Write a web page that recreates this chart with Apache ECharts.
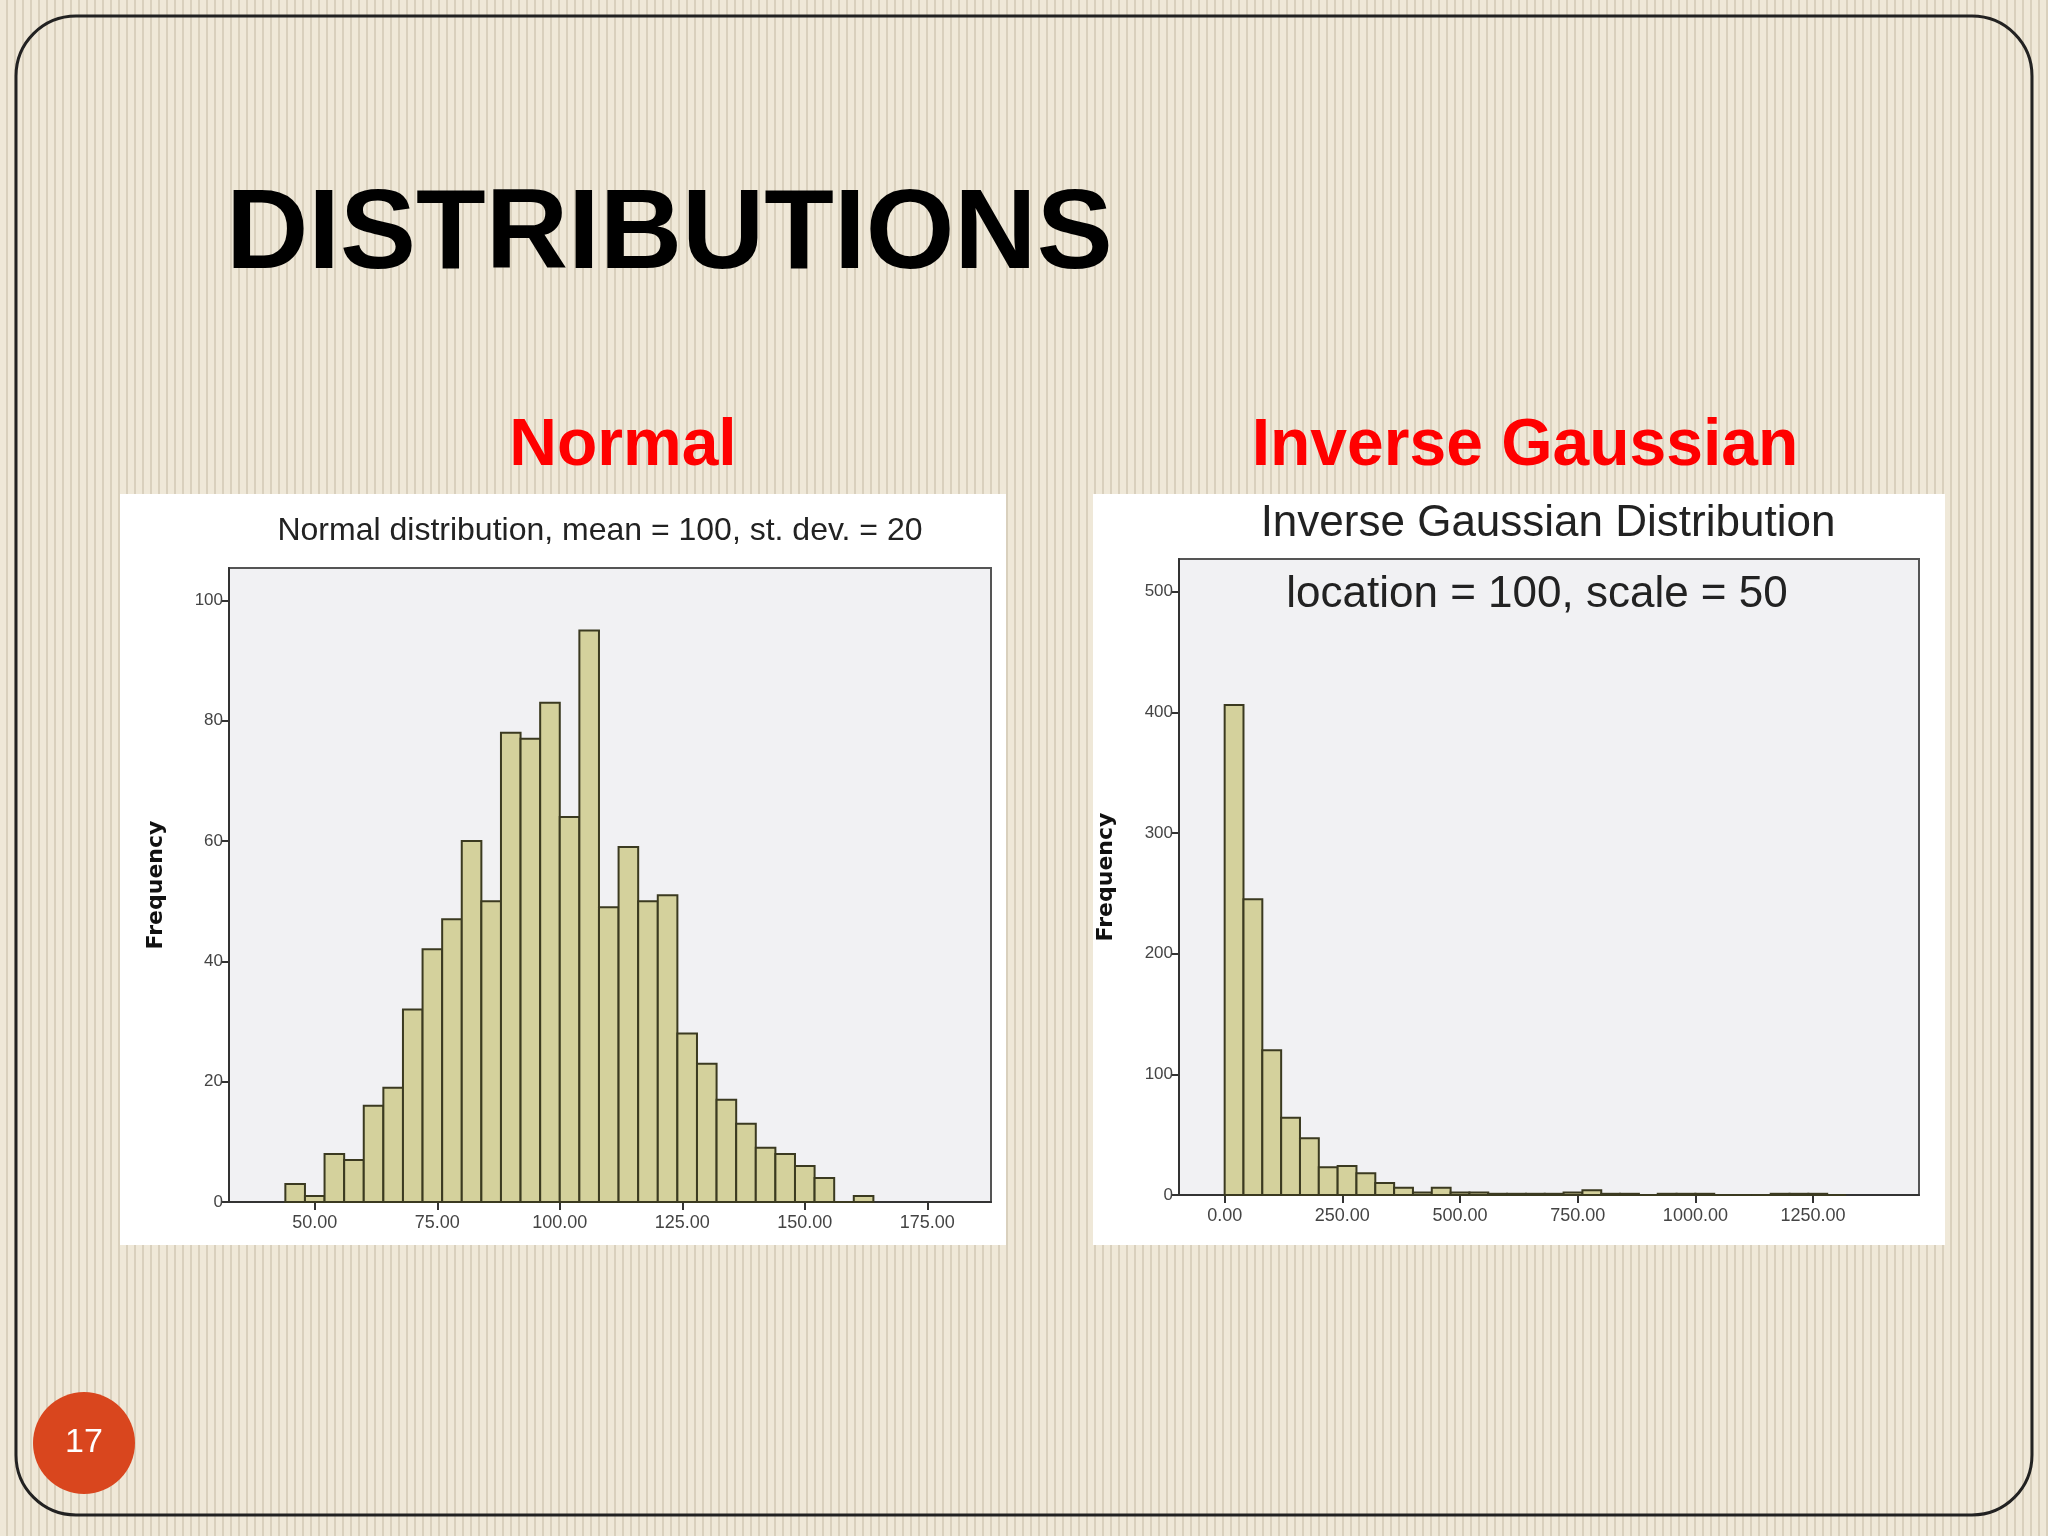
<!DOCTYPE html>
<html><head><meta charset="utf-8">
<script src="https://cdn.jsdelivr.net/npm/echarts@6/dist/echarts.min.js"></script>
<style>
html,body{margin:0;padding:0;}
#c{width:2048px;height:1536px;background:#efe8d8;
background-image:repeating-linear-gradient(90deg,#efe8d8 0px,#efe8d8 6px,#d9d0bd 6px,#d9d0bd 8px);}
</style></head><body><div id="c"></div>
<script>
// Normal histogram: bin starts (width 4) and counts
const normalBinStart = [44,48,52,56,60,64,68,72,76,80,84,88,92,96,100,104,108,112,116,120,124,128,132,136,140,144,148,152,156,160];
const normalCounts   = [3,1,8,7,16,19,32,42,47,60,50,78,77,83,64,95,49,59,50,51,28,23,17,13,9,8,6,4,0,1];
const normalBinWidth = 4;
const normalTicks = [50,75,100,125,150,175];
// Inverse Gaussian histogram: bin starts (width 40) and counts
const igBinStart = [0,40,80,120,160,200,240,280,320,360,400,440,480,520,560,600,640,680,720,760,800,840,880,920,960,1000,1040,1080,1120,1160,1200,1240,1280];
const igCounts   = [406,245,120,64,47,23,24,18,10,6,2,6,2,2,1,1,1,1,2,4,1,1,0,1,1,1,0,0,0,1,1,1,0];
const igBinWidth = 40;
const igTicks = [0,250,500,750,1000,1250];

const chart = echarts.init(document.getElementById('c'));
function hist(starts, counts, w, xi){
  return {type:'custom', xAxisIndex:xi, yAxisIndex:xi,
    data: starts.map((s,i)=>[s, s+w, counts[i]]),
    renderItem:(p,api)=>{
      const a=api.coord([api.value(0),0]), b=api.coord([api.value(1),api.value(2)]);
      return {type:'rect', shape:{x:a[0],y:b[1],width:b[0]-a[0],height:a[1]-b[1]},
        style:{fill:'#d4d19c',stroke:'#3b3a20',lineWidth:2}};
    }};
}
const axisX = (min,max,ticks)=>({type:'value',min:min,max:max,
  axisLine:{show:true,onZero:false,lineStyle:{color:'#333',width:2}},
  axisTick:{show:true,customValues:ticks,length:8,lineStyle:{color:'#333',width:2}},
  axisLabel:{customValues:ticks,formatter:v=>v.toFixed(2),fontSize:18,color:'#444',fontFamily:'Liberation Sans',margin:12},
  splitLine:{show:false}});
const axisY = (max,interval)=>({type:'value',min:0,max:max,interval:interval,
  name:'Frequency',nameLocation:'middle',nameRotate:90,nameGap:62,
  nameTextStyle:{fontSize:22,fontWeight:'bold',color:'#111',fontFamily:'DejaVu Sans'},
  axisLine:{show:true,onZero:false,lineStyle:{color:'#333',width:2}},
  axisTick:{show:true,length:8,lineStyle:{color:'#333',width:2}},
  axisLabel:{fontSize:17,color:'#444',fontFamily:'Liberation Sans',margin:6,
    showMaxLabel:false},
  splitLine:{show:false}});
chart.setOption({
  animation:false,
  graphic:[
    {type:'rect',shape:{x:16,y:16,width:2016,height:1499,r:60},style:{fill:'transparent',stroke:'#222',lineWidth:3},z:-1},
    {type:'rect',shape:{x:120,y:494,width:886,height:751},style:{fill:'#fff'},z:-10},
    {type:'rect',shape:{x:1093,y:494,width:852,height:751},style:{fill:'#fff'},z:-10},
    {type:'text',left:226,top:180,style:{text:'DISTRIBUTIONS',font:'bold 114px "Liberation Sans"',fill:'#000'}},
    {type:'text',x:623,y:447,style:{text:'Normal',font:'bold 66px "Liberation Sans"',fill:'#ff0000',align:'center',verticalAlign:'middle'}},
    {type:'text',x:1525,y:447,style:{text:'Inverse Gaussian',font:'bold 66px "Liberation Sans"',fill:'#ff0000',align:'center',verticalAlign:'middle'}},
    {type:'text',x:600,y:531,style:{text:'Normal distribution, mean = 100, st. dev. = 20',font:'32px "Liberation Sans"',fill:'#222',align:'center',verticalAlign:'middle'}},
    {type:'text',x:1548,y:524,style:{text:'Inverse Gaussian Distribution',font:'44px "Liberation Sans"',fill:'#222',align:'center',verticalAlign:'middle'}},
    {type:'text',x:1537,y:595,z:10,style:{text:'location = 100, scale = 50',font:'44px "Liberation Sans"',fill:'#222',align:'center',verticalAlign:'middle'}},
    {type:'circle',shape:{cx:84,cy:1443,r:51},style:{fill:'#d9461e'}},
    {type:'text',x:84,y:1443,style:{text:'17',font:'34px "Liberation Sans"',fill:'#fff',align:'center',verticalAlign:'middle'}}
  ],
  grid:[
    {left:229,top:568,width:762,height:634,show:true,backgroundColor:'#f1f1f3',borderColor:'#555',borderWidth:2},
    {left:1179,top:559,width:740,height:636,show:true,backgroundColor:'#f1f1f3',borderColor:'#555',borderWidth:2}
  ],
  xAxis:[axisX(32.5,188,normalTicks), Object.assign(axisX(-97,1475,igTicks),{gridIndex:1})],
  yAxis:[axisY(105.4,20), Object.assign(axisY(527,100),{gridIndex:1})],
  series:[hist(normalBinStart,normalCounts,normalBinWidth,0), hist(igBinStart,igCounts,igBinWidth,1)]
});
</script></body></html>
